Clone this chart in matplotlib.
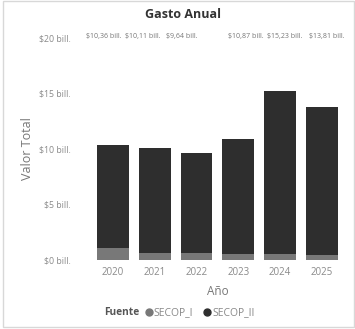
import matplotlib.pyplot as plt
from matplotlib.patches import Rectangle
from matplotlib.lines import Line2D

plt.rcParams['font.family'] = ['Open Sans', 'DejaVu Sans']

# datos (billones)
years = ["2020", "2021", "2022", "2023", "2024", "2025"]
totals = [10.36, 10.11, 9.64, 10.87, 15.23, 13.81]
secop_1 = [1.1, 0.6, 0.6, 0.5, 0.5, 0.4]
secop_2 = [t - s for t, s in zip(totals, secop_1)]
total_labels = ["$10,36 bill.", "$10,11 bill.", "$9,64 bill.", "$10,87 bill.",
                "$15,23 bill.", "$13,81 bill."]
# where the (crowded) total labels sit along the top row
label_x = [-0.21, 0.71, 1.64, 3.17, 4.10, 5.12]
yticks = [0, 5, 10, 15, 20]
ytick_labels = ["$0 bill.", "$5 bill.", "$10 bill.", "$15 bill.", "$20 bill."]

c1 = "#787878"
c2 = "#2e2e2e"
txt = "#8a8a8a"

fig = plt.figure(figsize=(3.55, 3.29), dpi=100)
fig.patches.append(Rectangle((0.008, 0.006), 0.99, 0.99, transform=fig.transFigure,
                             fill=False, edgecolor="#d8d8d8", lw=1))
ax = fig.add_axes([0.259, 0.21, 0.707, 0.675])

x = range(len(years))
ax.bar(x, secop_1, width=0.76, color=c1)
ax.bar(x, secop_2, width=0.76, bottom=secop_1, color=c2)

for lx, lab in zip(label_x, total_labels):
    ax.text(lx, 20.1, lab, ha="center", va="center", fontsize=5, color="#777777",
            clip_on=False)

ax.set_xlim(-0.5, 5.5)
ax.set_ylim(0, 20)
ax.set_xticks(list(x))
ax.set_xticklabels(years, fontsize=7, color=txt)
ax.set_yticks(yticks)
ax.set_yticklabels(ytick_labels, fontsize=6.3, color=txt)
ax.tick_params(length=0, pad=5)
ax.tick_params(axis="y", pad=15)
for s in ax.spines.values():
    s.set_visible(False)

ax.set_xlabel("Año", fontsize=8.5, color="#777777", labelpad=5)
ax.set_ylabel("Valor Total", fontsize=9, color="#777777", labelpad=4)
fig.text(0.515, 0.955, "Gasto Anual", ha="center", va="center", fontsize=9,
         fontweight="bold", color="#333333")

handles = [Line2D([], [], marker="o", ls="", color=c1, markersize=5),
           Line2D([], [], marker="o", ls="", color=c2, markersize=5)]
fig.legend(handles, ["SECOP_I", "SECOP_II"], loc="center left",
           bbox_to_anchor=(0.41, 0.049), ncol=2, frameon=False, fontsize=7.5,
           handlelength=0.6, handletextpad=0.15, columnspacing=1.1,
           labelcolor="#888888", borderaxespad=0, borderpad=0)
fig.text(0.342, 0.049, "Fuente", ha="center", va="center", fontsize=7.3,
         fontweight="bold", color="#555555")

fig.savefig("out.png", dpi=100)
